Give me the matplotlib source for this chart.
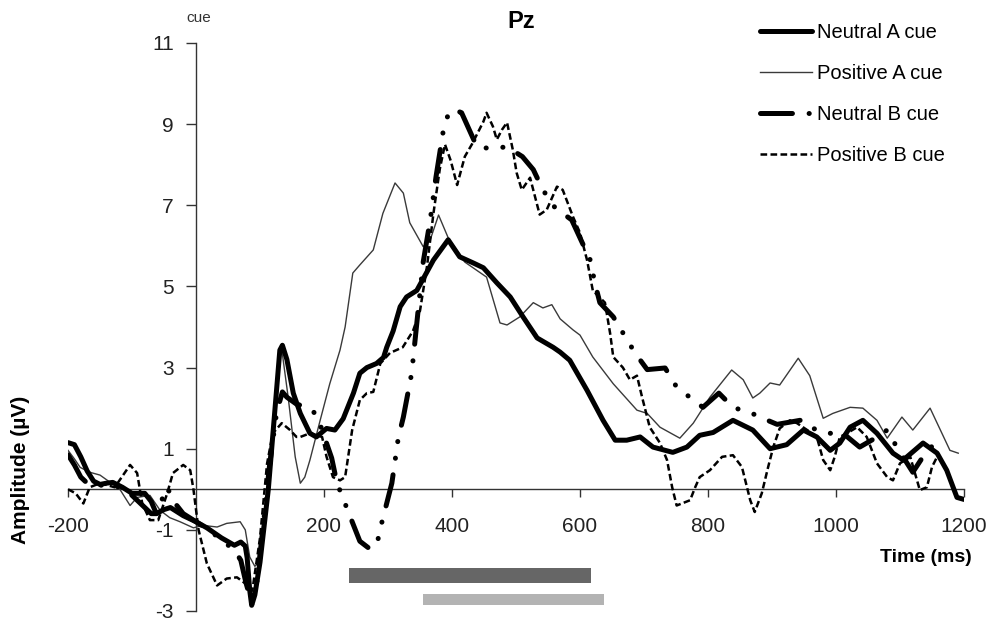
import matplotlib
matplotlib.use("Agg")
import matplotlib.pyplot as plt

plt.rcParams["font.family"] = ["Liberation Sans", "DejaVu Sans"]
plt.rcParams["lines.scale_dashes"] = False

# ERP waveforms at Pz (time in ms, amplitude in microvolts)
neutral_a_t = [-200, -190, -180, -170, -160, -150, -140, -130, -115, -100, -80, -70, -62, -50,
               -40, -20, 0, 17, 40, 60, 70, 77, 80, 84, 87, 92, 95, 100, 113, 123, 131, 135,
               142, 152, 163, 178, 188, 204, 217, 230, 246, 256, 267, 282, 293, 298, 308,
               319, 329, 345, 371, 394, 412, 433, 449, 470, 491, 511, 533, 558, 569, 584,
               611, 636, 655, 673, 694, 714, 745, 767, 787, 808, 839, 870, 897, 923, 949,
               970, 991, 1006, 1022, 1042, 1064, 1089, 1105, 1136, 1158, 1173, 1189, 1200]
neutral_a_v = [1.15, 1.1, 0.8, 0.45, 0.2, 0.12, 0.15, 0.17, 0.05, -0.1, -0.1, -0.3, -0.6, -0.5,
               -0.45, -0.65, -0.8, -0.95, -1.2, -1.38, -1.3, -1.4, -1.7, -2.5, -2.86, -2.6, -2.3,
               -1.8, 0.0, 1.9, 3.43, 3.55, 3.2, 2.37, 1.87, 1.38, 1.29, 1.5, 1.46, 1.74, 2.37,
               2.86, 3.0, 3.1, 3.25, 3.5, 3.9, 4.5, 4.74, 4.9, 5.65, 6.15, 5.73, 5.58, 5.46,
               5.09, 4.74, 4.25, 3.73, 3.5, 3.38, 3.18, 2.44, 1.7, 1.21, 1.21, 1.29, 1.04, 0.91,
               1.04, 1.33, 1.4, 1.7, 1.46, 1.0, 1.1, 1.46, 1.29, 0.96, 1.14, 1.53, 1.7, 1.38,
               0.89, 0.72, 1.14, 0.89, 0.47, -0.2, -0.25]

positive_a_t = [-200, -190, -181, -166, -150, -134, -119, -103, -92, -72, -56, -41, -25, -4,
                11, 33, 48, 69, 77, 84, 92, 97, 103, 113, 123, 131, 134, 144, 155, 163, 170,
                178, 194, 209, 225, 233, 245, 256, 277, 292, 311, 324, 334, 355, 366, 379, 394,
                420, 454, 475, 486, 506, 527, 542, 556, 569, 589, 600, 620, 652, 689, 705, 725,
                756, 777, 803, 837, 855, 870, 881, 897, 912, 941, 959, 980, 995, 1022, 1042,
                1064, 1080, 1103, 1120, 1147, 1167, 1178, 1191]
positive_a_v = [0.96, 0.75, 0.54, 0.42, 0.35, 0.17, 0.0, -0.4, -0.2, -0.15, -0.52, -0.7, -0.8,
                -0.95, -0.89, -0.93, -0.84, -0.8, -1.0, -1.67, -1.9, -1.8, -1.0, 0.2, 2.0, 3.3,
                3.45, 2.27, 0.8, 0.15, 0.3, 0.72, 1.7, 2.6, 3.43, 4.0, 5.33, 5.53, 5.9, 6.8,
                7.55, 7.3, 6.57, 5.98, 6.15, 6.76, 6.2, 5.6, 5.23, 4.1, 4.05, 4.25, 4.6, 4.47,
                4.55, 4.2, 3.93, 3.8, 3.26, 2.6, 1.95, 1.87, 1.53, 1.26, 1.63, 2.27, 2.94, 2.7,
                2.25, 2.37, 2.62, 2.57, 3.23, 2.8, 1.75, 1.87, 2.02, 2.0, 1.7, 1.26, 1.78, 1.46,
                2.0, 1.33, 0.96, 0.89]

neutral_b_t = [-200, -190, -180, -170, -150, -130, -110, -90, -70, -60, -50, -45, -35, -20, 0,
               20, 40, 60, 70, 78, 86, 95, 105, 115, 126, 135, 142, 157, 178, 190, 196, 212,
               220, 244, 256, 270, 282, 290, 306, 311, 316, 324, 337, 347, 355, 366, 375, 381,
               386, 395, 405, 415, 439, 460, 486, 510, 527, 542, 561, 587, 616, 623, 631, 652,
               686, 705, 733, 751, 792, 817, 839, 869, 881, 908, 944, 959, 986, 1011, 1037,
               1060, 1080, 1095, 1120, 1140, 1167]
neutral_b_v = [0.85, 0.6, 0.3, 0.15, 0.1, 0.1, 0.0, -0.3, -0.6, -0.6, -0.1, 0.05, -0.3, -0.6,
               -0.8, -1.0, -1.25, -1.5, -1.75, -2.3, -2.75, -2.3, -0.9, 0.6, 1.9, 2.4, 2.27,
               2.1, 2.0, 1.8, 1.5, 0.77, 0.17, -0.8, -1.28, -1.45, -1.4, -0.84, 0.15, 0.7,
               1.26, 1.78, 2.86, 4.4, 5.6, 6.64, 7.7, 8.3, 8.8, 9.3, 9.35, 9.28, 8.44, 8.4,
               8.44, 8.2, 7.88, 7.38, 6.94, 6.64, 5.65, 5.1, 4.6, 4.25, 3.36, 2.95, 2.99, 2.52,
               2.02, 2.37, 2.02, 1.87, 1.78, 1.6, 1.7, 1.53, 1.38, 1.38, 1.04, 1.25, 1.46, 1.04,
               0.42, 0.9, 1.33]

positive_b_t = [-200, -188, -176, -166, -150, -127, -116, -103, -92, -84, -72, -59, -45, -36,
                -20, -9, -4, 4, 17, 33, 48, 64, 77, 88, 100, 111, 120, 134, 147, 157, 163, 178,
                197, 204, 214, 225, 233, 244, 256, 267, 277, 288, 303, 323, 339, 350, 361, 371,
                381, 389, 398, 408, 420, 431, 449, 454, 464, 470, 478, 486, 495, 501, 509, 522,
                537, 548, 564, 573, 589, 600, 611, 620, 639, 647, 652, 667, 678, 689, 697, 709,
                725, 736, 744, 751, 772, 780, 787, 803, 822, 839, 853, 866, 873, 884, 894, 902,
                912, 928, 939, 955, 970, 980, 991, 998, 1006, 1017, 1033, 1048, 1064, 1080, 1089,
                1100, 1116, 1131, 1142, 1150, 1158]
positive_b_v = [0.0, -0.1, -0.35, 0.05, 0.15, 0.05, 0.3, 0.6, 0.4, -0.35, -0.76, -0.76, -0.1,
                0.4, 0.6, 0.47, 0.0, -1.0, -1.83, -2.37, -2.2, -2.17, -2.32, -2.5, -1.2, 0.63,
                1.38, 1.63, 1.46, 1.29, 1.29, 1.38, 1.29, 0.8, 0.3, 0.22, 0.3, 1.46, 2.2, 2.37,
                2.4, 3.1, 3.36, 3.5, 3.9, 4.4, 5.5, 6.8, 7.9, 8.5, 8.1, 7.5, 8.2, 8.5, 9.06,
                9.28, 8.94, 8.62, 8.86, 9.04, 8.37, 7.8, 7.38, 7.68, 6.77, 6.89, 7.46, 7.38,
                6.72, 6.32, 5.65, 4.9, 4.6, 3.85, 3.26, 3.0, 2.7, 2.8, 2.27, 1.53, 1.14, 0.72,
                0.05, -0.4, -0.27, 0.05, 0.3, 0.47, 0.8, 0.84, 0.55, -0.27, -0.56, -0.1, 0.55,
                1.04, 1.5, 1.7, 1.63, 1.46, 1.29, 0.72, 0.47, 0.8, 1.29, 1.38, 1.53, 1.29, 0.64,
                0.3, 0.22, 0.64, 0.8, -0.02, 0.05, 0.55, 0.8]

# significant time windows (ms)
window_start = [239, 355]
window_end = [617, 637]
window_level = [-2.13, -2.715]

x_ticks = [-200, 200, 400, 600, 800, 1000, 1200]
y_ticks = [-3, -1, 1, 3, 5, 7, 9, 11]

fig = plt.figure(figsize=(9.87, 6.25), dpi=100)
ax = fig.add_axes([68 / 987, 14 / 625, 896 / 987, 568 / 625])
ax.set_xlim(-200, 1200)
ax.set_ylim(-3, 11)

ax.barh(window_level, [e - s for s, e in zip(window_start, window_end)], left=window_start,
        height=[0.37, 0.29], color=["#666666", "#b3b3b3"], zorder=1)

ax.plot(neutral_a_t, neutral_a_v, color="black", lw=3.6, solid_capstyle="round",
        solid_joinstyle="round", label="Neutral A cue", zorder=4)
ax.plot(positive_a_t, positive_a_v, color="#3a3a3a", lw=1.0, label="Positive A cue", zorder=3)
# long dash - dot - dot
ax.plot(neutral_b_t, neutral_b_v, color="black", lw=3.6, dash_capstyle="round",
        dash_joinstyle="round", linestyle=(0, (23, 12, 0.1, 12, 0.1, 12)),
        label="Neutral B cue", zorder=5)
ax.plot(positive_b_t, positive_b_v, color="black", lw=1.8, linestyle=(0, (4.8, 2.4)),
        label="Positive B cue", zorder=3)

for side in ["top", "right"]:
    ax.spines[side].set_visible(False)
ax.spines["left"].set_position(("data", 0))
ax.spines["bottom"].set_position(("data", 0))
for side in ["left", "bottom"]:
    ax.spines[side].set_color("#333333")
    ax.spines[side].set_linewidth(1.0)
    ax.spines[side].set_zorder(2)

ax.set_xticks(x_ticks)
ax.set_xticklabels([str(t) for t in x_ticks])
ax.set_yticks(y_ticks)
ax.set_yticklabels([str(v) for v in y_ticks])
ax.tick_params(axis="x", direction="out", length=6, width=1, color="#333333",
               pad=14, labelsize=15, labelcolor="#222222")
ax.tick_params(axis="y", direction="out", length=7, width=1, color="#333333",
               pad=9, labelsize=15, labelcolor="#222222")

fig.text(521 / 987, 1 - 22 / 625, "Pz", ha="center", va="center", weight="bold", size=17)
fig.text(199 / 987, 1 - 18 / 625, "cue", ha="center", va="center", size=11, color="#333333")
fig.text(926 / 987, 1 - 557 / 625, "Time (ms)", ha="center", va="center", weight="bold", size=14)
fig.text(21 / 987, 1 - 470 / 625, "Amplitude (µV)", ha="center", va="center", rotation=90,
         weight="bold", size=15)

ax.legend(loc="upper left", bbox_to_anchor=(760 / 987, 1 - 23 / 625),
          bbox_transform=fig.transFigure, frameon=False, fontsize=14.5, handlelength=2.6,
          handletextpad=0.25, labelspacing=1.1, borderpad=0, borderaxespad=0)

fig.savefig("out.png", dpi=100, facecolor="white")
